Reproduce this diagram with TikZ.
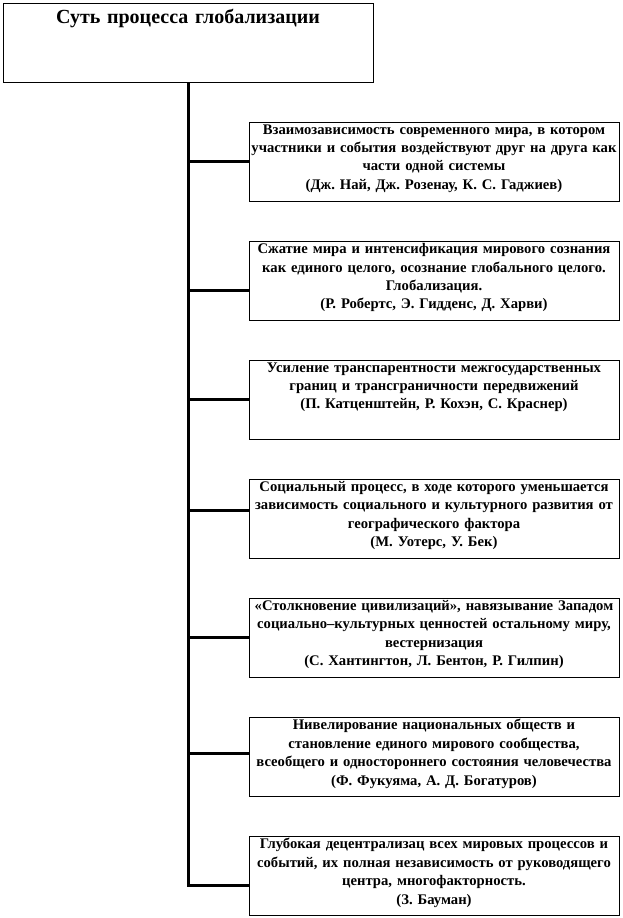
\documentclass[tikz,border=0pt]{standalone}
\usepackage{fontspec}
\setmainfont{Liberation Serif}
\usetikzlibrary{positioning,calc}
\frenchspacing
\tikzset{
  card/.style={draw, line width=0.75pt, minimum width=277.5pt, minimum height=59.25pt, inner sep=0pt},
  cardtext/.style={anchor=north, align=center, text width=300pt, inner sep=0pt,
    font=\bfseries\fontsize{11}{13.8}\selectfont},
  branch/.style={line width=2.25pt},
}
\begin{document}
\begin{tikzpicture}[x=0.75pt,y=-0.75pt]
  \useasboundingbox (0,0) rectangle (623,918);
  % head box
  \node[card] (top) at (188,42.5) {};
  \node[cardtext, font=\bfseries\fontsize{15}{17}\selectfont] (title) at ([yshift=-5pt]top.north) {Суть процесса глобализации};
  % definitions
  \node[card] (b1) at (434,161.5) {};
  \node[cardtext] (t1) at ([yshift=-2pt]b1.north) {Взаимозависимость современного мира, в котором\\ участники и события воздействуют друг на друга как\\ части одной системы\\ (Дж. Най, Дж. Розенау, К. С. Гаджиев)};
  \node[card] (b2) at (434,280.5) {};
  \node[cardtext] (t2) at ([yshift=-2pt]b2.north) {Сжатие мира и интенсификация мирового сознания\\ как единого целого, осознание глобального целого.\\ Глобализация.\\ (Р. Робертс, Э. Гидденс, Д. Харви)};
  \node[card] (b3) at (434,399.5) {};
  \node[cardtext] (t3) at ([yshift=-2pt]b3.north) {Усиление транспарентности межгосударственных\\ границ и трансграничности передвижений\\ (П. Катценштейн, Р. Кохэн, С. Краснер)};
  \node[card] (b4) at (434,518.5) {};
  \node[cardtext] (t4) at ([yshift=-2pt]b4.north) {Социальный процесс, в ходе которого уменьшается\\ зависимость социального и культурного развития от\\ географического фактора\\ (М. Уотерс, У. Бек)};
  \node[card] (b5) at (434,637.5) {};
  \node[cardtext] (t5) at ([yshift=-2pt]b5.north) {«Столкновение цивилизаций», навязывание Западом\\ социально–культурных ценностей остальному миру,\\ вестернизация\\ (С. Хантингтон, Л. Бентон, Р. Гилпин)};
  \node[card] (b6) at (434,756.5) {};
  \node[cardtext] (t6) at ([yshift=-2pt]b6.north) {Нивелирование национальных обществ и\\ становление единого мирового сообщества,\\ всеобщего и одностороннего состояния человечества\\ (Ф. Фукуяма, А. Д. Богатуров)};
  \node[card] (b7) at (434,875.5) {};
  \node[cardtext] (t7) at ([yshift=-2pt]b7.north) {Глубокая децентрализац всех мировых процессов и\\ событий, их полная независимость от руководящего\\ центра, многофакторность.\\ (З. Бауман)};
  % joints on the left sides
  \coordinate (j1) at (b1.west);
  \coordinate (j2) at ($(b2.west)+(0,9.5)$);
  \coordinate (j3) at (b3.west);
  \coordinate (j4) at ($(b4.west)+(0,-8.5)$);
  \coordinate (j5) at (b5.west);
  \coordinate (j6) at ($(b6.west)+(0,-3)$);
  \coordinate (j7) at ($(b7.west)+(0,9.5)$);
  % trunk and branches
  \draw[branch] (top.south) -- (j7 -| top.south) -- (j7);
  \draw[branch] (j1) -- (j1 -| top.south);
  \draw[branch] (j2) -- (j2 -| top.south);
  \draw[branch] (j3) -- (j3 -| top.south);
  \draw[branch] (j4) -- (j4 -| top.south);
  \draw[branch] (j5) -- (j5 -| top.south);
  \draw[branch] (j6) -- (j6 -| top.south);
\end{tikzpicture}
\end{document}
